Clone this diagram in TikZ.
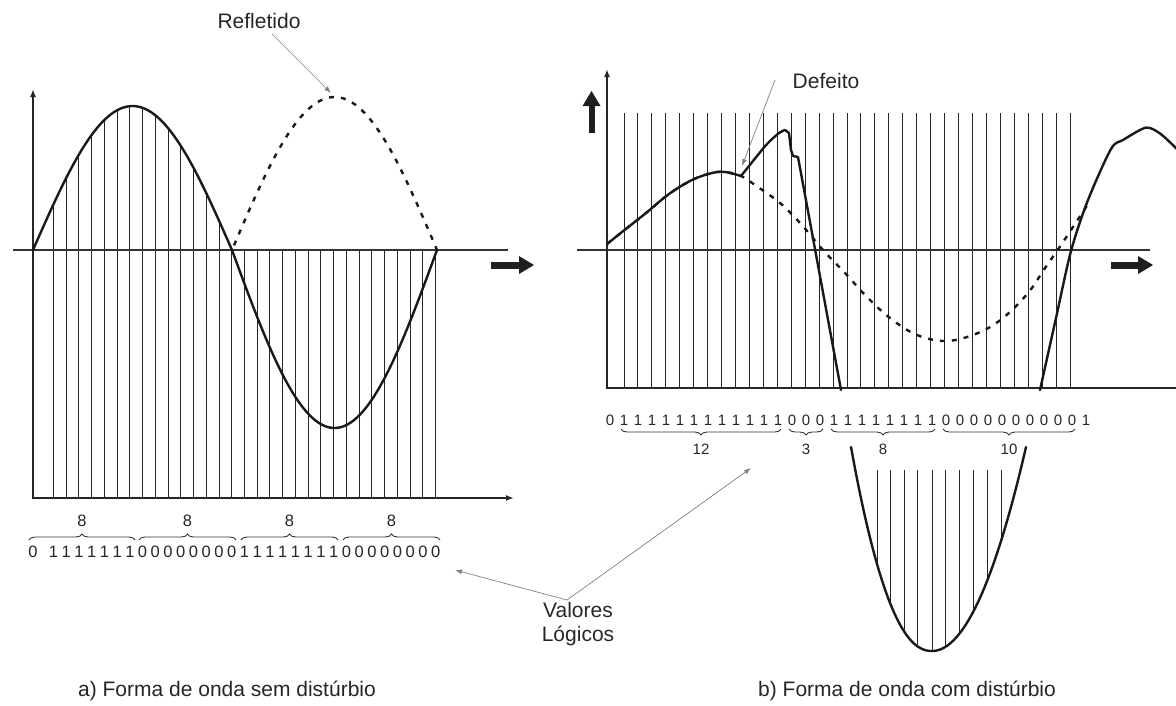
\documentclass[tikz,border=0pt]{standalone}
\usepackage{fontspec}
\setmainfont{Liberation Sans}
\usetikzlibrary{arrows.meta,decorations.pathreplacing}
\begin{document}
\begin{tikzpicture}[x=1pt,y=-1pt,
  wave/.style={line width=2.4pt, draw=black!90, line join=round, line cap=round},
  refl/.style={line width=2.4pt, draw=black!90, dash pattern=on 5pt off 7pt},
  gridline/.style={line width=1pt, draw=black!85},
  axisline/.style={line width=2pt, draw=black!85},
  midaxis/.style={line width=2.6pt, draw=black!80},
  axarrow/.style={-{Latex[length=8pt,width=6pt]}},
  pointer/.style={line width=0.7pt, draw=black!50, -{Latex[length=7pt,width=5pt]}},
  lbl/.style={font=\fontsize{21}{24}\selectfont, text=black!85, inner sep=0pt},
  bitL/.style={font=\fontsize{16.5}{19}\selectfont, text=black!85, inner sep=0pt, anchor=base},
  bitR/.style={font=\fontsize{15}{18}\selectfont, text=black!85, inner sep=0pt, anchor=base},
  bracedeco/.style={decorate, decoration={brace, amplitude=6pt}, line width=0.9pt, draw=black!80},
  thick arrow/.style={fill=black!88}
]
\useasboundingbox (0,0) rectangle (1176,705);

% ================= LEFT PANEL =================
\foreach \k in {0,...,30} {
  \pgfmathsetmacro\xx{53.4+12.74*\k}
  \ifdim\xx pt<232pt
    \draw[gridline] (\xx,{250-144*sin((\xx-33)/199*180)}) -- (\xx,498);
  \else
    \draw[gridline] (\xx,250) -- (\xx,498);
  \fi
}
\draw[midaxis] (13,250) -- (508,250);
\draw[axisline, axarrow] (33,498) -- (33,89);
\draw[axisline, axarrow] (32,498) -- (514,498);
\draw[wave] plot[domain=33:232, samples=70] (\x,{250-144*sin((\x-33)/199*180)})
  -- plot[domain=232:437, samples=70] (\x,{250+178*sin((\x-232)/205*180)});
\draw[refl] plot[domain=234:438, samples=70] (\x,{250-153*sin((\x-232)/205*180)});
% thick arrow
\fill[thick arrow] (491,261.5) rectangle (520,268.5);
\fill[thick arrow] (519,256) -- (534,265) -- (519,274) -- cycle;

% bits left
\foreach \d [count=\i from 0] in {0,1,1,1,1,1,1,1,0,0,0,0,0,0,0,0,1,1,1,1,1,1,1,1,0,0,0,0,0,0,0,0} {
  \pgfmathsetmacro\xx{\i==0 ? 33 : 53.4+12.74*(\i-1)}
  \node[bitL] (lb\i) at (\xx,557) {\d};
}
\draw[bracedeco] (29,540) -- (135,540);
\draw[bracedeco] (139,540) -- (236,540);
\draw[bracedeco] (241,540) -- (338,540);
\draw[bracedeco] (343,540) -- (440,540);
\node[bitL] (lg1) at (82,526) {8};
\node[bitL] (lg2) at (187.5,526) {8};
\node[bitL] (lg3) at (289.5,526) {8};
\node[bitL] (lg4) at (391.5,526) {8};

% Refletido label
\node[lbl, anchor=base] (refl) at (259,28) {Refletido};
\coordinate (reflfrom) at (272,34);
\coordinate (reflpk) at (331,93);
\draw[pointer] (reflfrom) -- (reflpk);

% ================= RIGHT PANEL =================
\foreach \k in {0,...,32} {
  \draw[gridline] ({624+13.94*\k},113) -- ({624+13.94*\k},388);
}
\draw[midaxis] (577,250) -- (1150,250);
\draw[axisline, axarrow] (607,389) -- (607,69);
\draw[axisline] (606,388) -- (1180,388);
% thick arrows
\fill[thick arrow] (1111,261.5) rectangle (1139,268.5);
\fill[thick arrow] (1138,256) -- (1153,265) -- (1138,274) -- cycle;
\fill[thick arrow] (588.5,105) rectangle (594.5,133);
\fill[thick arrow] (582.5,106) -- (591.5,91) -- (600.5,106) -- cycle;

% original (dashed) wave
\draw[refl] plot[smooth, tension=0.6] coordinates {(607,244) (622,232) (646,213) (669,194) (692,180) (712,173) (725,172) (741,176) (755,185) (780,203) (801,224) (823,250) (845,273) (867,297) (890,318) (917,335) (947,341) (978,333) (1003,318) (1028,293) (1045,268) (1059,248) (1073,227) (1088,204)};
% disturbed (solid) wave
\draw[wave] plot[smooth, tension=0.6] coordinates {(607,244) (622,232) (646,213) (669,194) (692,180) (712,173) (725,172) (741,176)};
\draw[wave] plot[smooth, tension=0.5] coordinates {(741,176) (753,161) (767,144) (779,133) (785,130)} -- (789,133) -- (791,150) -- (793,156) -- (798,157) -- (841,390);
\draw[wave] plot[smooth, tension=0.5] coordinates {(1040,390) (1056,318) (1071,251) (1088,200) (1111,149) (1123,140) (1142,129) (1150,128) (1162,135) (1180,152)};

% inset (clipped negative part)
\foreach \xx in {877,890,904,917,932,945,959,973,987,1001} {
  \draw[gridline] (\xx,470) -- (\xx,{651-204*pow((abs(\xx-932)+0.001)/((\xx<932)?81:94),((\xx<932)?2.2:2.0))});
}
\draw[wave] plot[domain=851:1026, samples=90] (\x,{651-204*pow((abs(\x-932)+0.001)/((\x<932)?81:94),((\x<932)?2.2:2.0))});

% bits right
\foreach \d [count=\i from 0] in {0,1,1,1,1,1,1,1,1,1,1,1,1,0,0,0,1,1,1,1,1,1,1,1,0,0,0,0,0,0,0,0,0,0,1} {
  \node[bitR] (rb\i) at ({610+14*\i},425) {\d};
}
\draw[bracedeco] (781,429) -- (621,429);
\draw[bracedeco] (823,429) -- (789,429);
\draw[bracedeco] (935,429) -- (831,429);
\draw[bracedeco] (1075,429) -- (943,429);
\node[bitR] (rg1) at (701,454) {12};
\node[bitR] (rg2) at (806,454) {3};
\node[bitR] (rg3) at (883,454) {8};
\node[bitR] (rg4) at (1009,454) {10};

% Defeito label
\node[lbl, anchor=base] (def) at (826,88) {Defeito};
\coordinate (deffrom) at (775,80);
\coordinate (defpt) at (742,166);
\draw[pointer] (deffrom) -- (defpt);

% Valores Logicos
\node[lbl, align=center, anchor=north] (val) at (578,602.5) {Valores\\Lógicos};
\coordinate (valtop) at (567,600);
\coordinate (valL) at (455,570);
\coordinate (valR) at (751,468);
\draw[pointer] (valtop) -- (valL);
\draw[pointer] (valtop) -- (valR);

% captions
\node[lbl, anchor=base] (capA) at (227,696) {a) Forma de onda sem distúrbio};
\node[lbl, anchor=base] (capB) at (907,696) {b) Forma de onda com distúrbio};
\end{tikzpicture}
\end{document}
